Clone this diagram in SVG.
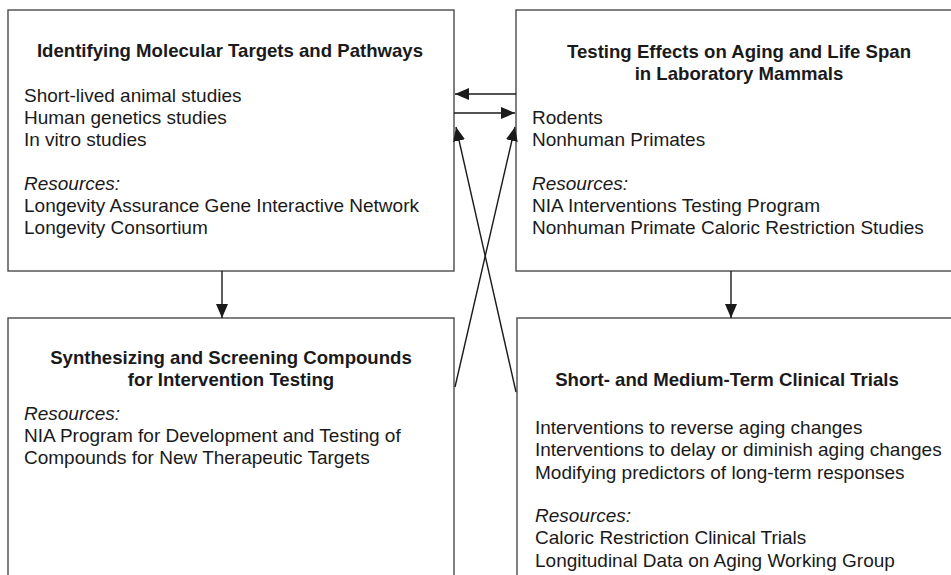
<svg xmlns="http://www.w3.org/2000/svg" width="951" height="575" viewBox="0 0 951 575">
<style>
.box{fill:#fff;stroke:#4a4a4a;stroke-width:1.4}
text{font-family:"Liberation Sans",Arial,sans-serif;font-size:19px;fill:#1a1a1a}
.t{font-weight:bold;text-anchor:middle;font-size:18.6px}
.i{font-style:italic}
.c{stroke:#1a1a1a;stroke-width:1.4;fill:none}
</style>
<defs>
<marker id="ah" viewBox="0 0 14 12" refX="14" refY="6" markerWidth="14" markerHeight="12" markerUnits="userSpaceOnUse" orient="auto">
<path d="M0,0 L14,6 L0,12 z" fill="#1a1a1a"/>
</marker>
</defs>
<rect width="951" height="575" fill="#fff"/>
<g id="node-molecular">
<rect class="box" x="8" y="10" width="446" height="261"/>
<text class="t" x="230" y="57">Identifying Molecular Targets and Pathways</text>
<text x="24" y="102">Short-lived animal studies</text>
<text x="24" y="124">Human genetics studies</text>
<text x="24" y="146">In vitro studies</text>
<text class="i" x="24" y="190">Resources:</text>
<text x="24" y="212">Longevity Assurance Gene Interactive Network</text>
<text x="24" y="234">Longevity Consortium</text>
</g>
<g id="node-mammals">
<rect class="box" x="516" y="10" width="446" height="261"/>
<text class="t" x="739" y="58">Testing Effects on Aging and Life Span</text>
<text class="t" x="739" y="80">in Laboratory Mammals</text>
<text x="532" y="124">Rodents</text>
<text x="532" y="146">Nonhuman Primates</text>
<text class="i" x="532" y="190">Resources:</text>
<text x="532" y="212">NIA Interventions Testing Program</text>
<text x="532" y="234">Nonhuman Primate Caloric Restriction Studies</text>
</g>
<g id="node-compounds">
<rect class="box" x="8" y="318" width="446" height="270"/>
<text class="t" x="231" y="364">Synthesizing and Screening Compounds</text>
<text class="t" x="231" y="386">for Intervention Testing</text>
<text class="i" x="24" y="420">Resources:</text>
<text x="24" y="442">NIA Program for Development and Testing of</text>
<text x="24" y="464">Compounds for New Therapeutic Targets</text>
</g>
<g id="node-trials">
<rect class="box" x="517" y="318" width="446" height="270"/>
<text class="t" x="727" y="386">Short- and Medium-Term Clinical Trials</text>
<text x="535" y="434">Interventions to reverse aging changes</text>
<text x="535" y="456">Interventions to delay or diminish aging changes</text>
<text x="535" y="479">Modifying predictors of long-term responses</text>
<text class="i" x="535" y="522">Resources:</text>
<text x="535" y="544">Caloric Restriction Clinical Trials</text>
<text x="535" y="567">Longitudinal Data on Aging Working Group</text>
</g>
<g id="connectors">
<line class="c" x1="516" y1="94" x2="455" y2="94" marker-end="url(#ah)"/>
<line class="c" x1="454" y1="113" x2="515" y2="113" marker-end="url(#ah)"/>
<line class="c" x1="222" y1="271" x2="222" y2="318" marker-end="url(#ah)"/>
<line class="c" x1="731" y1="271" x2="731" y2="318" marker-end="url(#ah)"/>
<line class="c" x1="455" y1="387" x2="515" y2="127" marker-end="url(#ah)"/>
<line class="c" x1="516" y1="392" x2="456" y2="127" marker-end="url(#ah)"/>
</g>
</svg>
